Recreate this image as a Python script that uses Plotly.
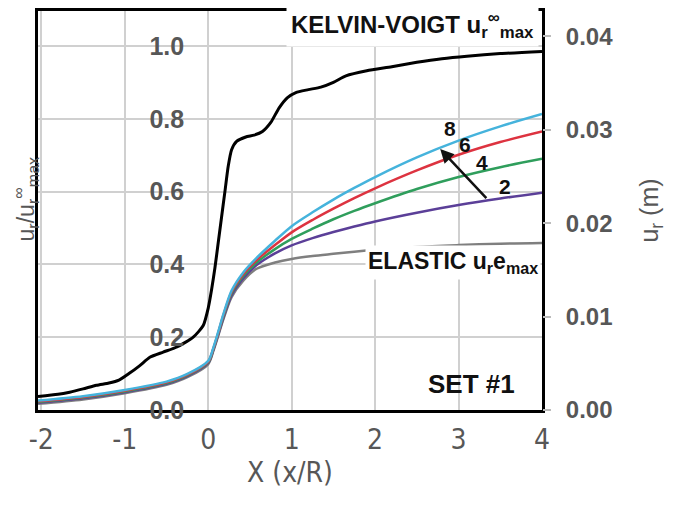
import plotly.graph_objects as go

# ---- data ----
x_kv = [-2.04, -1.8, -1.66, -1.5, -1.34, -1.19, -1.07, -0.95, -0.82, -0.7, -0.54, -0.375, -0.18, -0.06,
        0.0, 0.04, 0.08, 0.12, 0.16, 0.2, 0.24, 0.28, 0.34, 0.45, 0.55, 0.65, 0.75, 0.85, 0.95, 1.05,
        1.2, 1.35, 1.5, 1.65, 1.9, 2.2, 2.5, 2.8, 3.1, 3.5, 4.0]
y_kv = [0.037, 0.043, 0.049, 0.058, 0.068, 0.074, 0.082, 0.1, 0.122, 0.145, 0.159, 0.173, 0.2, 0.232,
        0.28, 0.33, 0.39, 0.46, 0.53, 0.6, 0.67, 0.715, 0.738, 0.75, 0.755, 0.765, 0.79, 0.83, 0.858, 0.872,
        0.88, 0.887, 0.9, 0.918, 0.932, 0.943, 0.955, 0.965, 0.972, 0.979, 0.985]

x_c = [-2.04, -1.5, -1.0, -0.5, -0.25, 0.0, 0.06, 0.12, 0.18, 0.28, 0.42, 0.58, 0.8, 1.0, 1.25, 1.5,
       1.75, 2.0, 2.5, 3.0, 3.5, 4.0]
y_n8 = [0.026, 0.038, 0.055, 0.078, 0.099, 0.135, 0.170, 0.215, 0.262, 0.328, 0.378, 0.418, 0.465, 0.505,
        0.543, 0.578, 0.61, 0.64, 0.694, 0.74, 0.779, 0.813]
y_n6 = [0.024, 0.036, 0.053, 0.076, 0.097, 0.133, 0.168, 0.212, 0.259, 0.324, 0.373, 0.412, 0.453, 0.488,
        0.522, 0.553, 0.582, 0.609, 0.658, 0.701, 0.736, 0.765]
y_n4 = [0.022, 0.034, 0.051, 0.074, 0.095, 0.131, 0.166, 0.210, 0.256, 0.320, 0.368, 0.405, 0.442, 0.47,
        0.498, 0.524, 0.547, 0.568, 0.607, 0.64, 0.667, 0.69]
y_n2 = [0.020, 0.032, 0.049, 0.072, 0.093, 0.129, 0.164, 0.207, 0.252, 0.315, 0.362, 0.398, 0.43, 0.452,
        0.472, 0.489, 0.504, 0.518, 0.542, 0.563, 0.581, 0.597]
y_el = [0.017, 0.029, 0.046, 0.069, 0.090, 0.126, 0.161, 0.204, 0.248, 0.310, 0.355, 0.388, 0.405, 0.415,
        0.423, 0.429, 0.435, 0.44, 0.448, 0.453, 0.457, 0.459]

x_ticks = [-2, -1, 0, 1, 2, 3, 4]
x_ticktext = ["-2", "-1", "0", "1", "2", "3", "4"]
yl_ticks = [0.0, 0.2, 0.4, 0.6, 0.8, 1.0]
yl_ticktext = ["0.0", "0.2", "0.4", "0.6", "0.8", "1.0"]
yr_ticks = [0.0, 0.01, 0.02, 0.03, 0.04]
yr_ticktext = ["0.00", "0.01", "0.02", "0.03", "0.04"]

n_labels = ["8", "6", "4", "2"]
n_label_x = [2.90, 3.08, 3.28, 3.56]
n_label_y = [0.774, 0.728, 0.679, 0.614]

GRAY = "#575757"
GRID = "#d0d0d0"
NARROW = "Liberation Sans Narrow, Arial Narrow, DejaVu Sans Condensed, sans-serif"
SANS = "Liberation Sans, Arial, sans-serif"

fig = go.Figure()
series = [
    (y_el, "#7f7f7f", 2.5),
    (y_n2, "#5b3f98", 2.5),
    (y_n4, "#2f9e5c", 2.5),
    (y_n6, "#dd3340", 2.5),
    (y_n8, "#45b3dc", 2.5),
]
for ys, col, w in series:
    fig.add_trace(go.Scatter(x=x_c, y=ys, mode="lines", line=dict(color=col, width=w, shape="spline", smoothing=0.8),
                             showlegend=False, hoverinfo="skip"))
fig.add_trace(go.Scatter(x=x_kv, y=y_kv, mode="lines", line=dict(color="black", width=3, shape="spline", smoothing=0.6),
                         showlegend=False, hoverinfo="skip"))
# helper traces so the extra axes are drawn (no visible marks)
fig.add_trace(go.Scatter(x=[None], y=[None], yaxis="y2", showlegend=False, hoverinfo="skip"))
fig.add_trace(go.Scatter(x=[None], y=[None], yaxis="y3", showlegend=False, hoverinfo="skip"))

fig.update_layout(
    width=679, height=507,
    margin=dict(l=38, r=137, t=8, b=97),
    paper_bgcolor="white", plot_bgcolor="white",
    xaxis=dict(range=[-2.04, 4.0], tickvals=x_ticks, ticktext=x_ticktext,
               showgrid=True, gridcolor=GRID, gridwidth=2, zeroline=False,
               showline=True, linecolor="black", linewidth=3, mirror=True,
               ticks="outside", ticklen=2, tickcolor="rgba(0,0,0,0)",
               tickfont=dict(family=NARROW, size=28, color=GRAY),
               title=dict(text="X (x/R)", font=dict(family=NARROW, size=28, color=GRAY), standoff=6)),
    yaxis=dict(range=[0, 1.096], tickvals=yl_ticks, showticklabels=False,
               showgrid=True, gridcolor=GRID, gridwidth=2, zeroline=False,
               showline=True, linecolor="black", linewidth=3, mirror=True, ticks=""),
    yaxis2=dict(range=[0, 0.0427], overlaying="y", side="right", anchor="x", tickvals=yr_ticks, ticktext=yr_ticktext,
                showgrid=False, zeroline=False, showline=False, ticks="outside", ticklen=8,
                tickcolor="#bbbbbb", tickwidth=1.5, ticklabelstandoff=10,
                tickfont=dict(family=SANS, size=24, color=GRAY, weight="bold"),
                title=dict(text="u<sub>r</sub> (m)", font=dict(family=SANS, size=25, color=GRAY), standoff=28)),
    yaxis3=dict(range=[0, 1.096], overlaying="y", side="left", anchor="free", position=0.29,
                tickvals=yl_ticks, ticktext=yl_ticktext, showgrid=False, zeroline=False, showline=False,
                ticks="", ticklabeloverflow="allow",
                tickfont=dict(family=SANS, size=25, color=GRAY, weight="bold")),
)

# white box behind SET #1
fig.add_shape(type="rect", xref="x", yref="y", x0=2.5, x1=4.0, y0=0.0, y1=0.15,
              fillcolor="white", line=dict(width=0), layer="below")

annotations = [
    dict(text="u<sub>r</sub>/u<sub>r</sub><sup>∞</sup><sub>max</sub>", xref="paper", yref="paper",
         x=-0.026, y=0.53, xanchor="center", yanchor="middle", textangle=-90, showarrow=False,
         font=dict(family=SANS, size=23, color=GRAY)),
    dict(text="KELVIN-VOIGT u<sub>r</sub><sup>∞</sup><sub>max</sub>", xref="paper", yref="paper",
         x=0.994, y=0.999, xanchor="right", yanchor="top", yshift=8, showarrow=False, bgcolor="white", borderpad=4,
         font=dict(family=SANS, size=24, color="#111111", weight="bold")),
    dict(text="ELASTIC u<sub>r</sub>e<sub>max</sub>", xref="paper", x=0.998, xanchor="right",
         yref="y", y=0.404, showarrow=False, bgcolor="white", borderpad=2,
         font=dict(family=SANS, size=23, color="#111111", weight="bold")),
    dict(text="SET #1", xref="x", yref="y", x=3.16, y=0.071, showarrow=False,
         font=dict(family=SANS, size=26, color="#111111", weight="bold")),
    dict(text="", xref="x", yref="y", axref="x", ayref="y", x=2.78, y=0.717, ax=3.35, ay=0.578,
         showarrow=True, arrowhead=2, arrowsize=1.1, arrowwidth=2.5, arrowcolor="#111111"),
]
for t, lx, ly in zip(n_labels, n_label_x, n_label_y):
    annotations.append(dict(text=t, xref="x", yref="y", x=lx, y=ly, showarrow=False,
                            font=dict(family=SANS, size=21, color="#111111", weight="bold")))
fig.update_layout(annotations=annotations)

fig.write_html("out.html")
